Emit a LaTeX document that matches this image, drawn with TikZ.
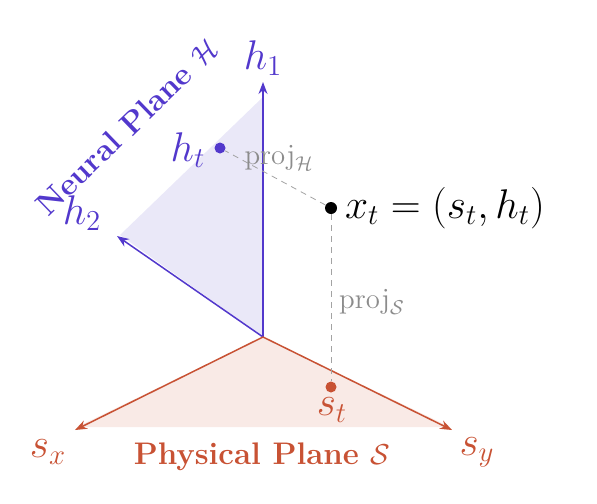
\documentclass[tikz,border=0pt]{standalone}
\usepackage{amsmath,amssymb}
\usetikzlibrary{arrows.meta}
\definecolor{nblue}{RGB}{82,56,204}
\definecolor{pred}{RGB}{200,82,52}
\definecolor{bfill}{RGB}{234,232,248}
\definecolor{rfill}{RGB}{249,234,230}
\definecolor{pgray}{RGB}{140,140,140}
\tikzset{
  blueax/.style={nblue, line width=0.75pt, -{Stealth[length=6pt,width=4.5pt]}},
  redax/.style={pred, line width=0.75pt, -{Stealth[length=6pt,width=4.5pt]}},
  projline/.style={pgray!80, line width=0.4pt, dash pattern=on 3pt off 2.5pt},
  dotpt/.style={circle, inner sep=0pt, minimum size=5.5pt},
  axlabel/.style={font=\fontsize{19.5}{22}\selectfont},
  projlabel/.style={pgray, font=\fontsize{14}{16}\selectfont},
}
\begin{document}
\begin{tikzpicture}[x=0.5pt,y=-0.5pt]
\useasboundingbox (0,0) rectangle (597,503);
\coordinate (O) at (263,337);
\coordinate (h1tip) at (263,82);
\coordinate (h2tip) at (117,236);
\coordinate (sxtip) at (75,430);
\coordinate (sytip) at (452,430);
% planes
\fill[bfill] (O) -- (263,97) -- (120,235) -- cycle;
\fill[rfill] (O) -- (77,427) -- (450,427) -- cycle;
% axes
\draw[blueax] (O) -- (h1tip);
\draw[blueax] (O) -- (h2tip);
\draw[redax] (O) -- (sxtip);
\draw[redax] (O) -- (sytip);
% axis labels
\node[axlabel, text=nblue] (h1) at (263,58) {$h_1$};
\node[axlabel, text=nblue] (h2) at (82,213) {$h_2$};
\node[axlabel, text=pred] (sx) at (48,452) {$s_x$};
\node[axlabel, text=pred] (sy) at (477,452) {$s_y$};
% plane names
\node[nblue, font=\fontsize{15.6}{18}\selectfont\bfseries, rotate=44] (nplane) at (127,127) {Neural Plane $\mathcal{H}$};
\node[pred, font=\fontsize{15.6}{18}\selectfont\bfseries] (pplane) at (262,457) {Physical Plane $\mathcal{S}$};
% points
\node[dotpt, fill=black, minimum size=6pt] (xt) at (331,208) {};
\node[dotpt, fill=nblue] (ht) at (220,148) {};
\node[dotpt, fill=pred] (st) at (331,387) {};
% projections
\draw[projline] (xt) -- (ht);
\draw[projline] (xt) -- (st);
% point labels
\node[font=\fontsize{22}{26}\selectfont, anchor=west] (xtl) at (338,208) {$x_t = (s_t, h_t)$};
\node[axlabel, text=nblue] (htl) at (188,150) {$h_t$};
\node[axlabel, text=pred] (stl) at (332,410) {$s_t$};
\node[projlabel] (ph) at (279,158) {$\mathrm{proj}_{\mathcal{H}}$};
\node[projlabel] (ps) at (372,302) {$\mathrm{proj}_{\mathcal{S}}$};
\end{tikzpicture}
\end{document}
